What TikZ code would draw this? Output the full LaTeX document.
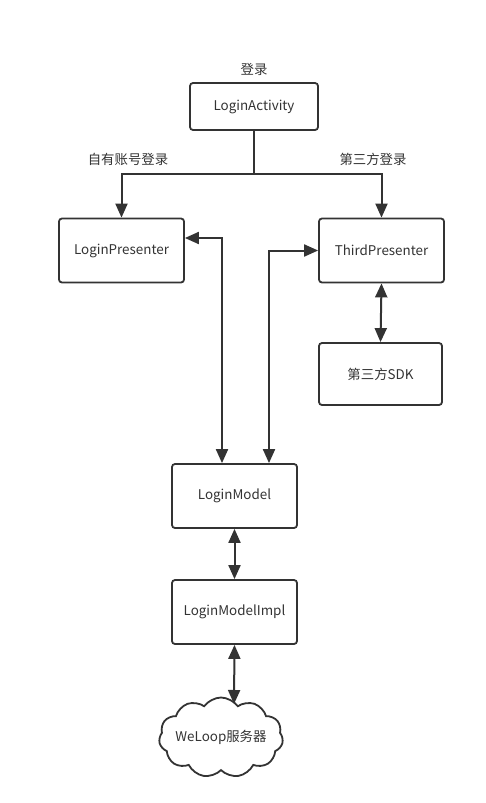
\documentclass[tikz,border=0pt]{standalone}
\usepackage{fontspec}
\setmainfont{Noto Sans CJK SC}
\usetikzlibrary{arrows.meta,shapes.symbols}
\definecolor{ink}{HTML}{333333}
\begin{document}
\begin{tikzpicture}[x=1pt,y=-1pt,
  box/.style={draw=ink,line width=1.8pt,rounded corners=3pt,minimum width=125pt,minimum height=64pt,inner sep=0pt,text=ink,font=\fontsize{13.4}{15}\selectfont},
  lbl/.style={text=ink,font=\fontsize{13.4}{15}\selectfont,inner sep=0pt},
  conn/.style={draw=ink,line width=2pt},
  tip/.style={-{Triangle[length=14pt,width=12pt]}},
  both/.style={{Triangle[length=14pt,width=12pt]}-{Triangle[length=14pt,width=12pt]}}]
\useasboundingbox (0,0) rectangle (486,803);
\node[box,minimum width=128pt,minimum height=47pt] (la) at (254,106.5) {LoginActivity};
\node[lbl] (title) at (254,69) {登录};
\node[box] (lp) at (121.5,250.5) {LoginPresenter};
\node[box] (tp) at (381.5,250.5) {ThirdPresenter};
\node[box,minimum width=123pt,minimum height=62pt] (sdk) at (380.5,374) {第三方SDK};
\node[box] (lm) at (234.5,496) {LoginModel};
\node[box] (lmi) at (234.5,612) {LoginModelImpl};
\node[cloud,cloud puffs=11,cloud puff arc=110,cloud ignores aspect,draw=ink,line width=1.8pt,minimum width=124pt,minimum height=80pt,inner sep=-12pt,text=ink,font=\fontsize{13.4}{15}\selectfont] (srv) at (221,737.5) {WeLoop服务器};
\node[lbl] (l1) at (128,159) {自有账号登录};
\node[lbl] (l2) at (373,159) {第三方登录};
\coordinate (j) at (254,174);
\coordinate (a1) at (222,238);
\coordinate (a2) at (269,251);
\coordinate (c1) at (234,704);
\draw[conn] (la.south) -- (j);
\draw[conn,tip] (j) -| (lp.north);
\draw[conn,tip] (j) -| (tp.north);
\draw[conn,both] (lp.east |- a1) -| (lm.north -| a1);
\draw[conn,both] (tp.west) -| (lm.north -| a2);
\draw[conn,both] (tp.south) -- (sdk.north);
\draw[conn,both] (lm.south) -- (lmi.north);
\draw[conn,both] (lmi.south) -- (c1);
\end{tikzpicture}
\end{document}
